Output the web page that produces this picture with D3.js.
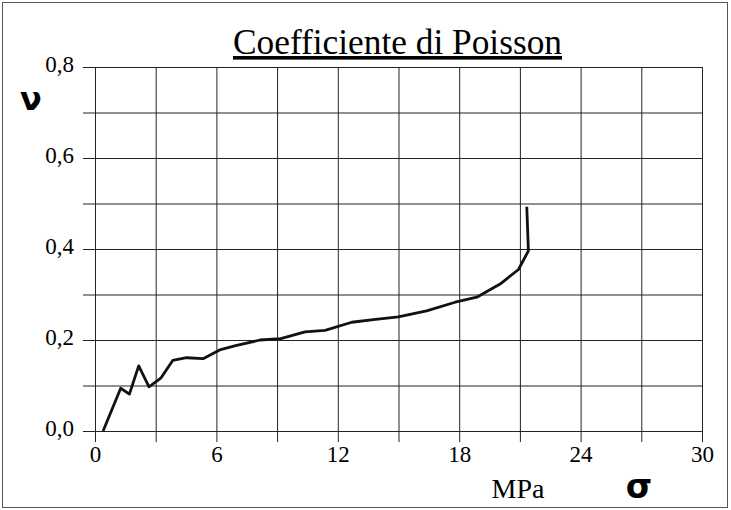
<!DOCTYPE html>
<html>
<head>
<meta charset="utf-8">
<script src="https://cdn.jsdelivr.net/npm/d3@7"></script>
<style>
  body { margin: 0; background: #fff; }
  .serif { font-family: "Liberation Serif", "Times New Roman", Times, serif; }
  .axis text { font-family: "Liberation Serif", "Times New Roman", Times, serif; font-size: 23px; fill: #000; }
  .axis path { display: none; }
  .axis line { stroke: #222; stroke-width: 1; }
</style>
</head>
<body>
<svg id="chart" width="731" height="510"></svg>
<script>
// Data
var sigma = [0.4, 1.27, 1.7, 2.16, 2.67, 3.25, 3.84, 4.53, 5.34, 6.21, 7.0, 8.16, 9.18,
             10.38, 11.37, 12.69, 13.76, 14.99, 16.39, 17.8, 18.87, 20.02, 20.93, 21.42, 21.34];
var nu = [0.0, 0.094, 0.081, 0.143, 0.097, 0.116, 0.155, 0.161, 0.159, 0.179, 0.188, 0.2, 0.203,
          0.218, 0.221, 0.239, 0.245, 0.251, 0.264, 0.283, 0.294, 0.323, 0.355, 0.396, 0.493];
var xTicks = [0, 3, 6, 9, 12, 15, 18, 21, 24, 27, 30];
var xLabels = [0, 6, 12, 18, 24, 30];
var yTicks = [0, 0.1, 0.2, 0.3, 0.4, 0.5, 0.6, 0.7, 0.8];
var yLabels = [0, 0.2, 0.4, 0.6, 0.8];

var margin = { top: 67, left: 95 },
    width = 607,
    height = 364;

var svg = d3.select("#chart");

// outer frame
svg.append("rect")
    .attr("x", 2.5).attr("y", 2.5)
    .attr("width", 725).attr("height", 505)
    .attr("fill", "none")
    .attr("stroke", "#555");

var g = svg.append("g")
    .attr("transform", "translate(" + margin.left + "," + margin.top + ")");

var xScale = d3.scaleLinear().domain([0, 30]).range([0, width]);
var yScale = d3.scaleLinear().domain([0, 0.8]).range([height, 0]);

var comma = d3.formatLocale({ decimal: ",", thousands: ".", grouping: [3], currency: ["", ""] }).format(".1f");

// y grid + ticks
g.append("g")
    .attr("class", "axis y")
    .call(d3.axisLeft(yScale).tickValues(yTicks).tickSize(-width).tickFormat(function (d) {
        return yLabels.some(function (v) { return Math.abs(v - d) < 1e-9; }) ? comma(d) : "";
    }))
    .call(function (a) {
        a.attr("font-family", null).attr("font-size", null);
        a.selectAll(".tick line").attr("x1", -12);
        a.selectAll(".tick text").attr("x", -21).attr("dy", "0.2em");
    });

// x grid + ticks
g.append("g")
    .attr("class", "axis x")
    .attr("transform", "translate(0," + height + ")")
    .call(d3.axisBottom(xScale).tickValues(xTicks).tickSize(-height).tickFormat(function (d) {
        return xLabels.indexOf(d) >= 0 ? d : "";
    }))
    .call(function (a) {
        a.attr("font-family", null).attr("font-size", null);
        a.selectAll(".tick line").attr("y1", 11);
        a.selectAll(".tick text").attr("y", 31).attr("dy", 0);
    });

// curve
var points = sigma.map(function (s, i) { return [s, nu[i]]; });
var line = d3.line()
    .x(function (d) { return xScale(d[0]); })
    .y(function (d) { return yScale(d[1]); });

g.append("path")
    .datum(points)
    .attr("d", line)
    .attr("fill", "none")
    .attr("stroke", "#111")
    .attr("stroke-width", 2.8)
    .attr("stroke-linejoin", "round");

// title
svg.append("text")
    .attr("class", "serif")
    .attr("x", 397.5)
    .attr("y", 54)
    .attr("text-anchor", "middle")
    .attr("textLength", 329)
    .attr("lengthAdjust", "spacingAndGlyphs")
    .style("font-size", "36px")
    .style("text-decoration", "underline")
    .text("Coefficiente di Poisson");

// axis symbols
svg.append("text")
    .attr("x", 31).attr("y", 110)
    .attr("text-anchor", "middle")
    .style("font-family", "'DejaVu Sans', sans-serif")
    .style("font-weight", "bold")
    .style("font-size", "32px")
    .text("ν");

svg.append("text")
    .attr("class", "serif")
    .attr("x", 518).attr("y", 498)
    .attr("text-anchor", "middle")
    .style("font-size", "28px")
    .text("MPa");

svg.append("text")
    .attr("x", 639).attr("y", 498)
    .attr("text-anchor", "middle")
    .style("font-family", "'DejaVu Sans', sans-serif")
    .style("font-weight", "bold")
    .style("font-size", "34px")
    .text("σ");
</script>
</body>
</html>
